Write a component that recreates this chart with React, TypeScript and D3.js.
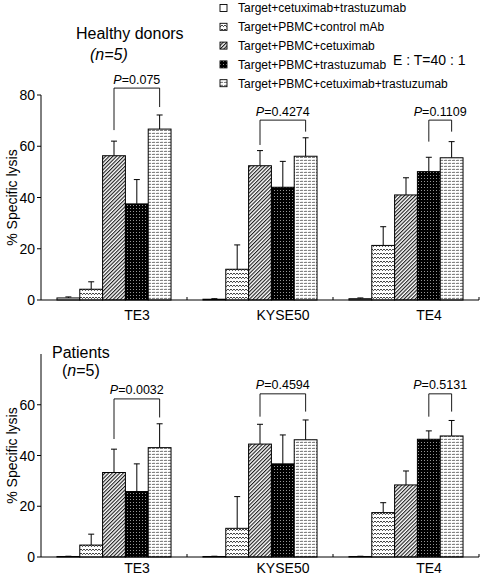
import React from "react";
import * as d3 from "d3";

const categories = ["TE3", "KYSE50", "TE4"];
const seriesNames = [
  "Target+cetuximab+trastuzumab",
  "Target+PBMC+control mAb",
  "Target+PBMC+cetuximab",
  "Target+PBMC+trastuzumab",
  "Target+PBMC+cetuximab+trastuzumab",
];
const healthyMeans = [
  [0.8, 4.2, 56.3, 37.5, 66.7],
  [0.3, 12, 52.4, 44, 56.1],
  [0.5, 21.3, 41, 50.1, 55.5],
];
const healthySD = [
  [0.4, 2.9, 5.7, 9.5, 5.5],
  [0.2, 9.5, 5.9, 10.1, 7.2],
  [0.3, 7.3, 6.7, 5.6, 6.3],
];
const patientsMeans = [
  [0.2, 4.7, 33.3, 25.8, 43.1],
  [0.2, 11.3, 44.5, 36.7, 46.2],
  [0.2, 17.5, 28.4, 46.4, 47.7],
];
const patientsSD = [
  [0.1, 4.3, 9.2, 10.9, 9.4],
  [0.1, 12.5, 7.8, 11.4, 7.8],
  [0.1, 3.9, 5.5, 3.3, 6.1],
];
const pFrom = [2, 2, 3];
const pTo = [4, 4, 4];
const healthyP = ["0.075", "0.4274", "0.1109"];
const patientsP = ["0.0032", "0.4594", "0.5131"];
const healthyBracket = [82.7, 70.2, 70.2];
const healthyLegL = [66.3, 60.5, 61.8];
const healthyLegR = [75.3, 65.7, 65.7];
const patientsBracket = [62.3, 64.3, 64.3];
const patientsLegL = [46.5, 55.3, 55.3];
const patientsLegR = [55.0, 57.3, 57.3];
const healthyTicks = [0, 20, 40, 60, 80];
const patientsTicks = [0, 20, 40, 60];

const FONT = "'Liberation Sans', Arial, Helvetica, sans-serif";
const fills = ["url(#pOpen)", "url(#pWave)", "url(#pDiag)", "url(#pDots)", "url(#pChain)"];

function Patterns() {
  return (
    <defs>
      <pattern id="pOpen" width="4" height="4" patternUnits="userSpaceOnUse">
        <rect width="4" height="4" fill="#fff" />
      </pattern>
      <pattern id="pWave" width="3" height="4" patternUnits="userSpaceOnUse">
        <rect width="3" height="4" fill="#fff" />
        <path d="M0,1 L1.5,2.6 L3,1" fill="none" stroke="#000" strokeWidth="0.75" />
      </pattern>
      <pattern id="pDiag" width="2.6" height="2.6" patternUnits="userSpaceOnUse" patternTransform="rotate(45)">
        <rect width="2.6" height="2.6" fill="#fff" />
        <line x1="0.6" y1="0" x2="0.6" y2="2.6" stroke="#000" strokeWidth="1" />
      </pattern>
      <pattern id="pDots" width="3" height="3" patternUnits="userSpaceOnUse">
        <rect width="3" height="3" fill="#000" />
        <rect x="1" y="1" width="0.9" height="0.9" fill="#bbb" />
      </pattern>
      <pattern id="pChain" width="4" height="3" patternUnits="userSpaceOnUse">
        <rect width="4" height="3" fill="#fff" />
        <path d="M0,0.8 L1,2 L2,0.8 L3,2" fill="none" stroke="#222" strokeWidth="0.6" />
      </pattern>
    </defs>
  );
}

type PanelProps = {
  means: number[][];
  sd: number[][];
  pvals: string[];
  bTop: number[];
  bL: number[];
  bR: number[];
  yZero: number;
  yMax: number;
  ticks: number[];
  labelY: number;
};

function Panel({ means, sd, pvals, bTop, bL, bR, yZero, yMax, ticks, labelY }: PanelProps) {
  const x = d3.scaleBand<string>().domain(categories).range([41, 479]).paddingInner(0).paddingOuter(0);
  const xi = d3.scaleBand<number>().domain(d3.range(5)).range([0, x.bandwidth()]).paddingInner(0).paddingOuter(0.7);
  const y = d3.scaleLinear().domain([0, 80]).range([yZero, yMax]);
  const bw = xi.bandwidth();
  return (
    <g>
      {categories.map((c, ci) => (
        <g key={c}>
          {means[ci].map((v, si) => {
            const bx = x(c)! + xi(si)!;
            const cx = bx + bw / 2;
            const top = y(v + sd[ci][si]);
            return (
              <g key={si}>
                <line x1={cx} x2={cx} y1={y(v)} y2={top} stroke="#000" strokeWidth={1} />
                <line x1={cx - 3} x2={cx + 3} y1={top} y2={top} stroke="#000" strokeWidth={1} />
                <rect x={bx} y={y(v)} width={bw} height={y(0) - y(v)} fill={fills[si]} stroke="#000" strokeWidth={1} />
              </g>
            );
          })}
          {(() => {
            const x1 = x(c)! + xi(pFrom[ci])! + bw / 2;
            const x2 = x(c)! + xi(pTo[ci])! + bw / 2;
            const yt = y(bTop[ci]);
            return (
              <g>
                <path
                  d={`M${x1},${y(bL[ci])} V${yt} H${x2} V${y(bR[ci])}`}
                  fill="none"
                  stroke="#000"
                  strokeWidth={0.9}
                />
                <text x={(x1 + x2) / 2} y={yt - 4.5} textAnchor="middle" fontSize={12.5} fontFamily={FONT}>
                  <tspan fontStyle="italic">P</tspan>={pvals[ci]}
                </text>
              </g>
            );
          })()}
          <text
            x={x(c)! + x.bandwidth() / 2 + 23}
            y={labelY}
            textAnchor="middle"
            fontSize={14}
            fontFamily={FONT}
          >
            {c}
          </text>
        </g>
      ))}
      {/* y axis */}
      <line x1={41} x2={41} y1={y(80)} y2={y(0)} stroke="#000" strokeWidth={1} />
      {ticks.map((t) => (
        <g key={t}>
          <line x1={37} x2={41} y1={y(t)} y2={y(t)} stroke="#000" strokeWidth={1} />
          <text x={35} y={y(t)} dy="0.36em" textAnchor="end" fontSize={14} fontFamily={FONT}>
            {t}
          </text>
        </g>
      ))}
      {/* x axis */}
      <line x1={41} x2={479} y1={y(0)} y2={y(0)} stroke="#000" strokeWidth={1} />
      {categories.map((c) => (
        <line key={c} x1={x(c)! + x.bandwidth()} x2={x(c)! + x.bandwidth()} y1={y(0)} y2={y(0) - 3} stroke="#000" strokeWidth={1} />
      ))}
      <text
        transform={`translate(17,${(y(0) + y(80)) / 2 - 0})) rotate(-90)`.replace("))", ")")}
        textAnchor="middle"
        fontSize={14}
        fontFamily={FONT}
      >
        % Specific lysis
      </text>
    </g>
  );
}

export default function App() {
  const legendY = (i: number) => 8 + i * 18.8;
  return (
    <svg width={484} height={580} style={{ position: "absolute", left: 0, top: 0, background: "#fff" }}>
      <Patterns />
      <rect width={484} height={580} fill="#fff" />
      {seriesNames.map((s, i) => (
        <g key={s}>
          <rect x={220} y={legendY(i) - 3.5} width={7} height={7} fill={fills[i]} stroke="#000" strokeWidth={0.9} />
          <text x={238} y={legendY(i)} dy="0.36em" fontSize={12} fontFamily={FONT}>
            {s}
          </text>
        </g>
      ))}
      <text x={393} y={60} dy="0.36em" fontSize={14} fontFamily={FONT}>
        E : T=40 : 1
      </text>
      <text x={76} y={39} fontSize={16} fontFamily={FONT}>
        Healthy donors
      </text>
      <text x={90} y={60} fontSize={16} fontFamily={FONT} fontStyle="italic">
        (n=5)
      </text>
      <text x={52} y={358} fontSize={16} fontFamily={FONT}>
        Patients
      </text>
      <text x={62} y={376} fontSize={16} fontFamily={FONT}>
        (<tspan fontStyle="italic">n</tspan>=5)
      </text>
      <Panel
        means={healthyMeans}
        sd={healthySD}
        pvals={healthyP}
        bTop={healthyBracket}
        bL={healthyLegL}
        bR={healthyLegR}
        yZero={300}
        yMax={95}
        ticks={healthyTicks}
        labelY={320}
      />
      <Panel
        means={patientsMeans}
        sd={patientsSD}
        pvals={patientsP}
        bTop={patientsBracket}
        bL={patientsLegL}
        bR={patientsLegR}
        yZero={557}
        yMax={354}
        ticks={patientsTicks}
        labelY={573}
      />
    </svg>
  );
}
